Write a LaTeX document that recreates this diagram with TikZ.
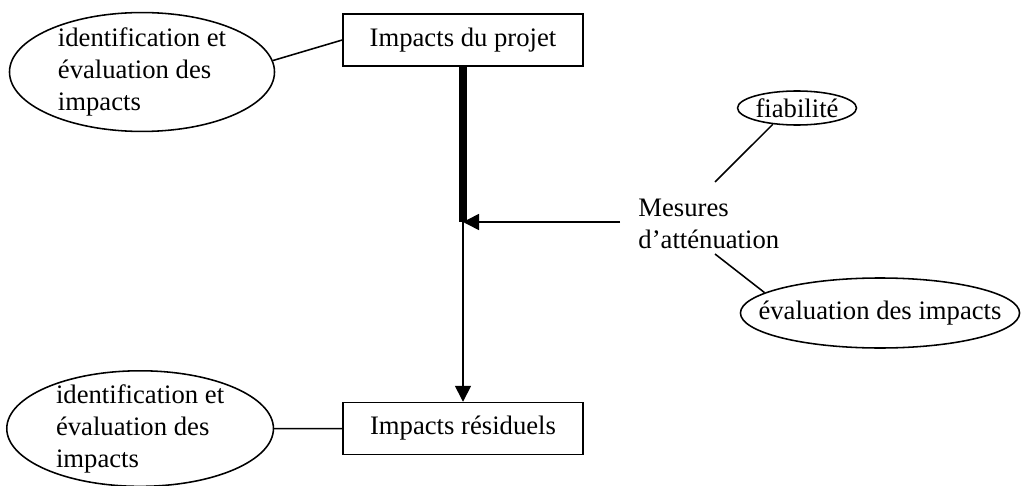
\documentclass[tikz,border=0pt]{standalone}
\usepackage{fontspec}
\setmainfont{Liberation Serif}
\usetikzlibrary{shapes.geometric, positioning, arrows.meta}
\tikzset{
every node/.style={font=\fontsize{12}{14.4}\selectfont}, % same font for all texts
box/.style={draw, line width=0.7pt, minimum width=108pt, minimum height=23.4pt, inner sep=0pt}, % the two impact boxes
bulle/.style={draw, ellipse, line width=0.7pt, inner xsep=-12pt, inner ysep=-4pt, align=left}, % ellipses, size set per node
link/.style={line width=0.7pt}, % plain connectors
bar/.style={line width=3.6pt}, % the thick part of the main axis
fleche/.style={line width=0.7pt, -{Triangle[length=7.2pt,width=7.2pt]}}, % arrows
}

\begin{document}
\begin{tikzpicture}[x=0.45pt, y=-0.45pt]
       \useasboundingbox (0,0) rectangle (1021,486);

       \node[box] (projet) at (463,40) {Impacts du projet};
       \node[box, below=150.75pt of projet] (residuels) {Impacts résiduels};
       \node[bulle, minimum width=119.25pt, minimum height=53.5pt] (ident1) at (142,72) {identification et\\évaluation des\\impacts};
       \node[bulle, minimum width=120pt, minimum height=52pt, left=30.6pt of residuels] (ident2) {identification et\\évaluation des\\impacts};
       \node[anchor=west, align=left, inner sep=0pt] (mesures) at (638,224) {Mesures\\d’atténuation};
       \node[bulle, minimum width=53.5pt, minimum height=15.3pt] (fiab) at (797,108) {fiabilité};
       \node[bulle, minimum width=125.6pt, minimum height=31.5pt] (eval) at (880,313) {évaluation des impacts};

       \coordinate (junc) at (463,222);
       \coordinate (mdepart) at (620,222);
       \coordinate (mhaut) at (715,182);
       \coordinate (mbas) at (715,254);

     \draw[bar] (projet.south) -- (junc);
     \draw[fleche] (mdepart) -- (junc);
     \draw[fleche] (junc) -- (residuels.north);
     \draw[link] (ident1.5) -- (projet.west)
                 (ident2) -- (residuels)
                 (fiab.214) -- (mhaut)
                 (mbas) -- (eval.170);

  \end{tikzpicture}
\end{document}
